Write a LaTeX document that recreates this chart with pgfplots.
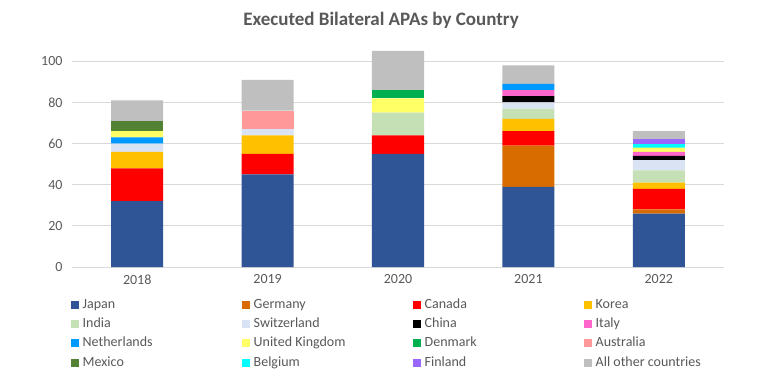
\documentclass[border=0pt]{standalone}
\usepackage{pgfplots}
\usepackage{pgfplotstable}
\pgfplotsset{compat=1.18}
\usepackage{fontspec}
\setmainfont{Carlito}

\definecolor{txtgray}{HTML}{595959}
\definecolor{gridgray}{HTML}{D9D9D9}
\definecolor{cJapan}{HTML}{2F5597}
\definecolor{cGermany}{HTML}{D86C00}
\definecolor{cCanada}{HTML}{FF0000}
\definecolor{cKorea}{HTML}{FFC000}
\definecolor{cIndia}{HTML}{C5E0B4}
\definecolor{cSwitzerland}{HTML}{DAE3F3}
\definecolor{cChina}{HTML}{000000}
\definecolor{cItaly}{HTML}{FF66CC}
\definecolor{cNetherlands}{HTML}{0099FF}
\definecolor{cUK}{HTML}{FFFF66}
\definecolor{cDenmark}{HTML}{00B050}
\definecolor{cAustralia}{HTML}{FF9999}
\definecolor{cMexico}{HTML}{548235}
\definecolor{cBelgium}{HTML}{00FFFF}
\definecolor{cFinland}{HTML}{9966FF}
\definecolor{cOthers}{HTML}{BFBFBF}

\pgfplotstableread{
x Japan Germany Canada Korea India Switzerland China Italy Netherlands UK Denmark Australia Mexico Belgium Finland Others
0 32 0  16 8 0  4 0 0 3 3 0 0 5 0 0 10
1 45 0  10 9 0  3 0 0 0 0 0 9 0 0 0 15
2 55 0  9  0 11 0 0 0 0 7 4 0 0 0 0 19
3 39 20 7  6 5  3 3 3 3 0 0 0 0 0 0 9
4 26 2  10 3 6  5 2 2 0 2 0 0 0 2 2 4
}\data

\newcommand{\lentry}[1]{\hspace{2pt}\makebox[158pt][l]{#1}}

\begin{document}
\begin{tikzpicture}
\path[use as bounding box] (0,0) rectangle (763pt,389pt);
\node[font=\fontsize{19}{23}\selectfont\bfseries, text=txtgray] at (381pt,369pt) {Executed Bilateral APAs by Country};
\begin{axis}[
  at={(72pt,122pt)}, anchor=south west,
  scale only axis,
  width=652pt, height=226.3pt,
  ybar stacked, bar width=52pt,
  xmin=-0.5, xmax=4.5,
  ymin=0, ymax=110,
  xtick={0,1,2,3,4},
  xticklabels={2018,2019,2020,2021,2022},
  ytick={0,20,40,60,80,100},
  ymajorgrids,
  grid style={gridgray, line width=0.8pt},
  axis line style={draw=none},
  major tick length=0pt,
  tick label style={text=txtgray, font=\fontsize{14}{16}\selectfont},
  /pgf/number format/assume math mode=true,
  yticklabel style={xshift=-6pt},
  xticklabel style={yshift=-4pt},
  legend columns=4,
  legend cell align=left,
  legend style={at={(0,0)}, anchor=north west, xshift=-1pt, yshift=-29.5pt,
    draw=none, inner sep=0pt, row sep=3.3pt,
    /tikz/every even column/.append style={column sep=0pt},
    nodes={inner sep=1.5pt, text=txtgray, font=\fontsize{14}{16}\selectfont, text height=10pt, text depth=3pt}},
  legend image code/.code={\fill[#1,draw=none] (0pt,-4pt) rectangle (8pt,4pt);},
  every axis plot/.append style={draw=none},
]
\addplot[fill=cJapan] table[x=x,y=Japan] {\data}; \addlegendentry{\lentry{Japan}}
\addplot[fill=cGermany] table[x=x,y=Germany] {\data}; \addlegendentry{\lentry{Germany}}
\addplot[fill=cCanada] table[x=x,y=Canada] {\data}; \addlegendentry{\lentry{Canada}}
\addplot[fill=cKorea] table[x=x,y=Korea] {\data}; \addlegendentry{\lentry{Korea}}
\addplot[fill=cIndia] table[x=x,y=India] {\data}; \addlegendentry{\lentry{India}}
\addplot[fill=cSwitzerland] table[x=x,y=Switzerland] {\data}; \addlegendentry{\lentry{Switzerland}}
\addplot[fill=cChina] table[x=x,y=China] {\data}; \addlegendentry{\lentry{China}}
\addplot[fill=cItaly] table[x=x,y=Italy] {\data}; \addlegendentry{\lentry{Italy}}
\addplot[fill=cNetherlands] table[x=x,y=Netherlands] {\data}; \addlegendentry{\lentry{Netherlands}}
\addplot[fill=cUK] table[x=x,y=UK] {\data}; \addlegendentry{\lentry{United Kingdom}}
\addplot[fill=cDenmark] table[x=x,y=Denmark] {\data}; \addlegendentry{\lentry{Denmark}}
\addplot[fill=cAustralia] table[x=x,y=Australia] {\data}; \addlegendentry{\lentry{Australia}}
\addplot[fill=cMexico] table[x=x,y=Mexico] {\data}; \addlegendentry{\lentry{Mexico}}
\addplot[fill=cBelgium] table[x=x,y=Belgium] {\data}; \addlegendentry{\lentry{Belgium}}
\addplot[fill=cFinland] table[x=x,y=Finland] {\data}; \addlegendentry{\lentry{Finland}}
\addplot[fill=cOthers] table[x=x,y=Others] {\data}; \addlegendentry{\lentry{All other countries}}
\end{axis}
\end{tikzpicture}
\end{document}
